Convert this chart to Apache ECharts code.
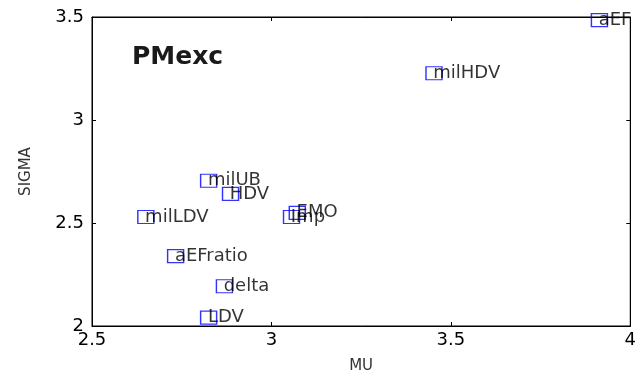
<!DOCTYPE html>
<html>
<head>
<meta charset="utf-8">
<script src="https://cdn.jsdelivr.net/npm/echarts@6/dist/echarts.min.js"></script>
<style>html,body{margin:0;padding:0;background:#fff;}#c{width:639px;height:379px;}</style>
</head>
<body>
<div id="c"></div>
<script>
var names = ['aEF','milHDV','milUB','HDV','milLDV','Imp','EMO','aEFratio','delta','LDV'];
var mu    = [3.914, 3.453, 2.825, 2.886, 2.650, 3.056, 3.072, 2.733, 2.869, 2.825];
var sigma = [3.485, 3.227, 2.705, 2.641, 2.529, 2.529, 2.549, 2.339, 2.193, 2.041];
var xTicks = [2.5, 3, 3.5, 4];
var yTicks = [2, 2.5, 3, 3.5];

var data = names.map(function(n, i){ return {name: n, value: [mu[i], sigma[i]]}; });
var font = 'DejaVu Sans';
var chart = echarts.init(document.getElementById('c'), null, {renderer:'canvas'});
chart.setOption({
  animation: false,
  backgroundColor: '#fff',
  grid: {left: 92, right: 7, top: 17, bottom: 53, show: true, borderColor: '#000', borderWidth: 1, backgroundColor:'transparent'},
  title: {text: 'PMexc', left: 127, top: 40, textStyle: {fontFamily: font, fontSize: 25, fontWeight: 'bold', color: '#1a1a1a'}},
  xAxis: [{
    type: 'value', min: 2.5, max: 4, interval: 0.5, position: 'bottom',
    name: 'MU', nameLocation: 'middle', nameGap: 33,
    nameTextStyle: {fontFamily: font, fontSize: 15, color: '#333'},
    axisLine: {show: true, lineStyle: {color: '#000', width: 1}},
    axisTick: {show: true, inside: true, length: 4, lineStyle: {color: '#000'}},
    axisLabel: {fontFamily: font, fontSize: 18, color: '#000', margin: 5,
      formatter: function(v){ return xTicks.indexOf(+v) >= 0 ? String(v) : ''; }},
    splitLine: {show: false}
  },{
    type: 'value', min: 2.5, max: 4, interval: 0.5, position: 'top',
    axisLine: {show: true, lineStyle: {color: '#000', width: 1}},
    axisTick: {show: true, inside: true, length: 4, lineStyle: {color: '#000'}},
    axisLabel: {show: false}, splitLine: {show: false}
  }],
  yAxis: [{
    type: 'value', min: 2, max: 3.5, interval: 0.5, position: 'left',
    name: 'SIGMA', nameLocation: 'middle', nameGap: 58, nameRotate: 90,
    nameTextStyle: {fontFamily: font, fontSize: 15, color: '#333'},
    axisLine: {show: true, lineStyle: {color: '#000', width: 1}},
    axisTick: {show: true, inside: true, length: 4, lineStyle: {color: '#000'}},
    axisLabel: {fontFamily: font, fontSize: 18, color: '#000', margin: 8,
      formatter: function(v){ return yTicks.indexOf(+v) >= 0 ? String(v) : ''; }},
    splitLine: {show: false}
  },{
    type: 'value', min: 2, max: 3.5, interval: 0.5, position: 'right',
    axisLine: {show: true, lineStyle: {color: '#000', width: 1}},
    axisTick: {show: true, inside: true, length: 4, lineStyle: {color: '#000'}},
    axisLabel: {show: false}, splitLine: {show: false}
  }],
  series: [{
    type: 'scatter',
    data: data,
    symbol: 'rect',
    symbolSize: [16, 13],
    itemStyle: {color: 'transparent', borderColor: '#0000ff', borderWidth: 1.3},
    label: {
      show: true, formatter: '{b}', position: [8, 7], align: 'left', verticalAlign: 'middle',
      fontFamily: font, fontSize: 18, color: '#000'
    },
    z: 3
  }]
});
</script>
</body>
</html>
